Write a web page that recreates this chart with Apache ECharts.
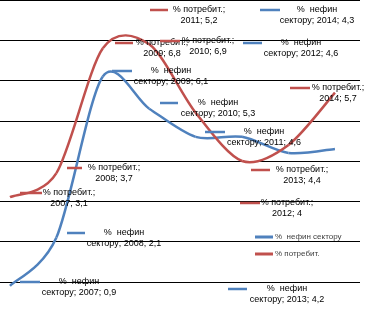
<!DOCTYPE html>
<html><head><meta charset="utf-8">
<script src="https://cdn.jsdelivr.net/npm/echarts@6/dist/echarts.min.js"></script>
<style>html,body{margin:0;padding:0;background:#fff}#c{width:366px;height:322px}</style>
</head><body><div id="c"></div>
<script>
const years = [2007, 2008, 2009, 2010, 2011, 2012, 2013, 2014];
const consumer = [3.1, 3.7, 6.8, 6.9, 5.2, 4.0, 4.4, 5.7];
const nonfin = [0.9, 2.1, 6.1, 5.3, 4.6, 4.6, 4.2, 4.3];
const nameConsumer = '% потребит.';
const nameNonfin = '%  нефин сектору';
const yTicks = [0, 1, 2, 3, 4, 5, 6, 7, 8];

// label layout (pixels): [keyStartX, keyEndX, firstLineY, textCenterX]
const consumerLabelPos = [[20,42,193,69],[67,82,168,114],[115,133,43,162],[160,180,41,208],[150,168,10,199],[240,260,203,287],[251,270,170,302],[290,310,88,338]];
const nonfinLabelPos = [[20,40,282,79],[67,85,233,124],[112,132,71,171],[160,178,103,218],[205,225,132,264],[243,262,43,301],[228,247,289,287],[260,280,10,317]];

const RED = '#C0504D', BLUE = '#4F81BD';
const fmt = v => String(v).replace('.', ',');

function labelGraphics(values, pos, color, line1, line2prefix) {
  const out = [];
  values.forEach((v, i) => {
    const [k1, k2, y, cx] = pos[i];
    out.push({type: 'line', z: 50, shape: {x1: k1, y1: y, x2: k2, y2: y},
      style: {stroke: color, lineWidth: 2.5}});
    out.push({type: 'text', z: 50, style: {
      text: line1 + '\n' + line2prefix + years[i] + '; ' + fmt(v),
      x: cx, y: y - 5.5, align: 'center', verticalAlign: 'top',
      font: '9px "Liberation Sans", Arial, sans-serif', lineHeight: 11, fill: '#000'}});
  });
  return out;
}

// Smoothed line (Catmull-Rom style Bezier segments) drawn through the axes via api.coord
function smoothSeries(name, values, color) {
  const n = values.length;
  return {
    name, type: 'custom', color, itemStyle: {color},
    data: years.map((y, i) => [y, values[i]]),
    encode: {x: 0, y: 1},
    renderItem: (params, api) => {
      const i = params.dataIndex;
      if (i >= n - 1) return null;
      const P = k => { const j = Math.max(0, Math.min(n - 1, k)); return api.coord([years[j], values[j]]); };
      const p0 = P(i - 1), p1 = P(i), p2 = P(i + 1), p3 = P(i + 2);
      const t = 0.15;
      return {type: 'bezierCurve', shape: {
          x1: p1[0], y1: p1[1], x2: p2[0], y2: p2[1],
          cpx1: p1[0] + (p2[0] - p0[0]) * t, cpy1: p1[1] + (p2[1] - p0[1]) * t,
          cpx2: p2[0] - (p3[0] - p1[0]) * t, cpy2: p2[1] - (p3[1] - p1[1]) * t},
        style: {stroke: color, lineWidth: 2.5, fill: null}};
    }
  };
}

const chart = echarts.init(document.getElementById('c'), null, {renderer: 'canvas'});
chart.setOption({
  animation: false,
  backgroundColor: '#fff',
  grid: {left: 0, top: 0, width: 360, height: 324, containLabel: false},
  xAxis: {type: 'value', min: 2006.785, max: 2014.54,
    axisLine: {show: false}, axisTick: {show: false}, axisLabel: {show: false}, splitLine: {show: false}},
  yAxis: {type: 'value', min: yTicks[0], max: yTicks[yTicks.length - 1], interval: 1,
    axisLine: {show: false}, axisTick: {show: false}, axisLabel: {show: false},
    splitLine: {show: true, lineStyle: {color: '#000', width: 1}}},
  legend: {orient: 'vertical', left: 255, top: 232, padding: 0, itemWidth: 18, itemHeight: 3, itemGap: 7,
    icon: 'rect', selectedMode: false,
    textStyle: {fontSize: 8, color: '#404040', fontFamily: '"Liberation Sans", Arial, sans-serif', lineHeight: 10, padding: [0,0,0,-3]},
    data: [{name: nameNonfin, icon: 'rect'}, {name: nameConsumer, icon: 'rect'}]},
  series: [
    smoothSeries(nameNonfin, nonfin, BLUE),
    smoothSeries(nameConsumer, consumer, RED)
  ],
  graphic: labelGraphics(consumer, consumerLabelPos, RED, '% потребит.;', '')
    .concat(labelGraphics(nonfin, nonfinLabelPos, BLUE, '%  нефин', 'сектору; '))
});
</script></body></html>
